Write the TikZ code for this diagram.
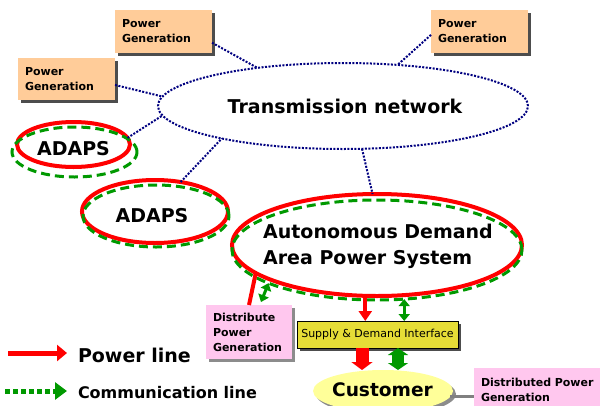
\documentclass[tikz,border=0pt]{standalone}
\usepackage{fontspec}
\setmainfont{DejaVu Sans}
\usetikzlibrary{shapes.geometric,arrows.meta,shadows,calc}
\definecolor{pgorange}{RGB}{255,204,153}
\definecolor{pinkbox}{RGB}{255,199,238}
\definecolor{ifyellow}{RGB}{230,221,55}
\definecolor{custyellow}{RGB}{255,255,153}
\definecolor{pwred}{RGB}{255,0,0}
\definecolor{cmgreen}{RGB}{0,153,0}
\definecolor{netnavy}{RGB}{0,0,128}
\definecolor{shdark}{RGB}{77,77,77}
\definecolor{shgray}{RGB}{140,140,140}
\definecolor{linkgray}{RGB}{128,128,128}
\begin{document}
\begin{tikzpicture}[x=1pt,y=-1pt,
  every node/.style={inner sep=0pt, outer sep=0pt},
  netdot/.style={draw=netnavy, line width=2pt, dash pattern=on 2pt off 1.5pt},
  darkshadow/.style={drop shadow={shadow xshift=3pt, shadow yshift=-3pt, fill=shdark, opacity=1}},
  lightshadow/.style={drop shadow={shadow xshift=3pt, shadow yshift=-3pt, fill=shgray, opacity=1}},
  genbox/.style={fill=pgorange, anchor=north west, align=left, text width=83pt, inner xsep=7pt,
    font=\bfseries\fontsize{11}{15}\selectfont, darkshadow},
  pinkstyle/.style={fill=pinkbox, anchor=north west, align=left, inner xsep=7pt,
    font=\bfseries\fontsize{11}{15}\selectfont, lightshadow},
  redell/.style={ellipse, draw=pwred, line width=4pt},
  greenell/.style={ellipse, draw=cmgreen, line width=3pt, dash pattern=on 9pt off 5pt},
  bigtext/.style={font=\bfseries\fontsize{19}{26}\selectfont},
  pwline/.style={draw=pwred, line width=4pt},
  pwarrow/.style={pwline, -{Triangle[width=13pt,length=10pt]}},
  cmarrow/.style={draw=cmgreen, line width=3pt, {Triangle[width=11pt,length=7pt]}-{Triangle[width=11pt,length=7pt]}},
  bigpw/.style={draw=pwred, line width=13pt, -{Triangle[width=21pt,length=8pt]}},
  bigcm/.style={draw=cmgreen, line width=12pt, {Triangle[width=20pt,length=7pt]}-{Triangle[width=20pt,length=7pt]}},
  legpw/.style={draw=pwred, line width=5pt, -{Triangle[width=16pt,length=10pt]}},
  legcm/.style={draw=cmgreen, line width=5pt, dash pattern=on 5pt off 3pt, -{Triangle[width=17pt,length=12pt]}},
  linkline/.style={draw=linkgray, line width=3pt}
]
\useasboundingbox (0,0) rectangle (600,405);
\clip (0,0) rectangle (600,405);

% transmission network
\node[ellipse, netdot, fill=white, minimum width=370pt, minimum height=86pt] (tn) at (343,106) {};
\node[bigtext] (tnt) at (345,106) {Transmission network};

% power generation boxes
\node[genbox, minimum height=43pt] (pg1) at (115,10) {Power\\Generation};
\node[genbox, minimum height=42pt] (pg2) at (18,58) {Power\\Generation};
\node[genbox, minimum height=43pt] (pg3) at (431,10) {Power\\Generation};

% ADAPS 1
\node[redell, minimum width=113pt, minimum height=45pt] (a1r) at (73.5,144.5) {};
\node[greenell, minimum width=125pt, minimum height=50pt] (a1g) at (74.5,152) {};
\node[bigtext] (a1t) at (73.5,149) {ADAPS};

% ADAPS 2
\node[redell, minimum width=146pt, minimum height=63pt] (a2r) at (155,211.5) {};
\node[greenell, minimum width=146pt, minimum height=62pt] (a2g) at (156,216) {};
\node[bigtext] (a2t) at (152,215.5) {ADAPS};

% main ADAPS
\node[redell, minimum width=290pt, minimum height=102pt] (mr) at (377,245) {};
\node[greenell, minimum width=290pt, minimum height=100pt] (mg) at (377,250) {};
\node[bigtext, align=left] (mt) at (378,246) {Autonomous Demand\\Area Power System};

% distributed generation box
\node[pinkstyle, text width=72pt, minimum height=54pt] (dpg) at (206,305) {Distribute\\Power\\Generation};

% supply & demand interface
\node[fill=ifyellow, draw=black, line width=0.8pt, minimum width=161pt, minimum height=27pt,
  anchor=north west, font=\fontsize{11}{13}\selectfont, darkshadow] (sdi) at (297,321) {Supply \& Demand Interface};

% customer
\node[ellipse, fill=custyellow, minimum width=140pt, minimum height=42pt, lightshadow] (cust) at (383,391) {};
\node[font=\bfseries\fontsize{18.6}{22}\selectfont] (custt) at (382.5,390) {Customer};

% distributed power generation (customer side)
\node[pinkstyle, text width=130pt, inner ysep=10.5pt] (dpg2) at (474,368) {Distributed Power\\Generation};

% network connections
\draw[netdot] (pg1.-13.3) -- (tn.156);
\draw[netdot] (pg2.-7) -- (tn.177);
\draw[netdot] (pg3.184) -- (tn.37.4);
\draw[netdot] (a1r.7.8) -- (tn.183.5);
\draw[netdot] (a2r.49.7) -- (tn.195.3);
\draw[netdot] (tn.-66) -- (mr.95.6);

% distributed generation links
\draw[pwline] (dpg.north) -- (mr.193.5);
\coordinate (dcm) at ($(dpg.north)+(12,-3)$);
\draw[cmarrow] (dcm) -- (mg.197.6);

% ADAPS to interface
\draw[pwarrow] (mr.257.8) -- (mr.257.8 |- sdi.north);
\draw[cmarrow] (mg.-61.2) -- (mg.-61.2 |- sdi.north);

% interface to customer
\coordinate (bp) at ($(sdi.south)+(-15.5,0)$);
\coordinate (bc) at ($(sdi.south)+(20.5,0)$);
\draw[bigpw] (bp) -- (bp |- cust.north);
\draw[bigcm] (bc) -- (bc |- cust.north);

% customer to distributed power generation
\draw[linkline] (cust.-5.1) -- (cust.-5.1 -| dpg2.west);

% legend
\coordinate (lp1) at (8,353);
\coordinate (lp2) at (67,353);
\draw[legpw] (lp1) -- (lp2);
\node[anchor=base west, font=\bfseries\fontsize{19}{23}\selectfont] (lpt) at (78,362) {Power line};
\coordinate (lc1) at (5,391);
\coordinate (lc2) at (67,391);
\draw[legcm] (lc1) -- (lc2);
\node[anchor=base west, font=\bfseries\fontsize{16}{20}\selectfont] (lct) at (78,398) {Communication line};
\end{tikzpicture}
\end{document}
